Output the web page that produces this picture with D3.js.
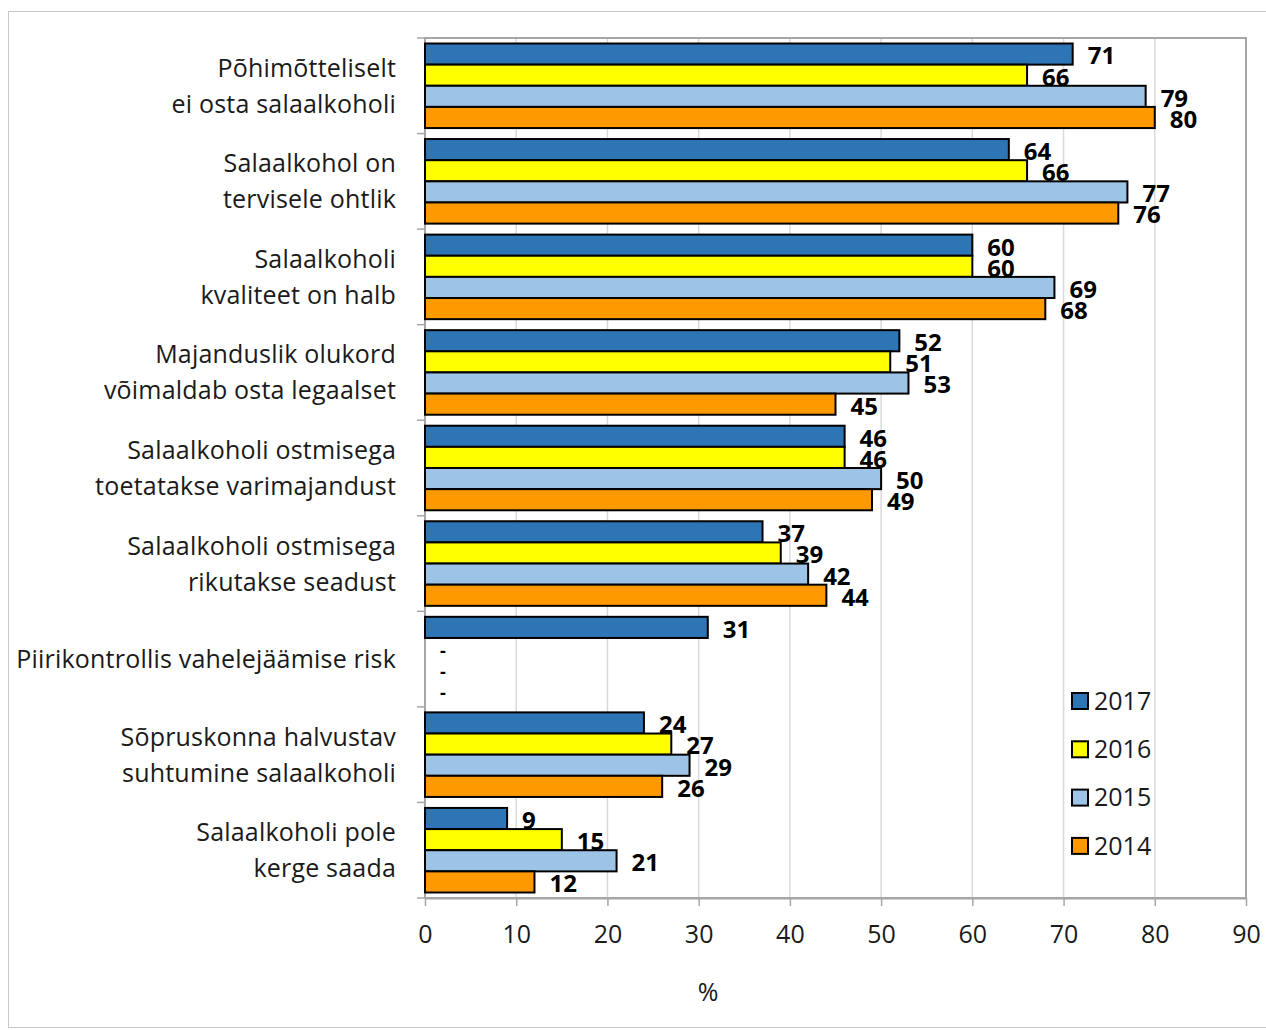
<!DOCTYPE html>
<html>
<head>
<meta charset="utf-8">
<script src="https://cdn.jsdelivr.net/npm/d3@7"></script>
<style>
  body { margin: 0; background: #fff; }
  svg { display: block; font-family: "Open Sans", "Noto Sans", sans-serif; }
</style>
</head>
<body>
<div id="chart"></div>
<script>
// categories (two-line labels), top to bottom
const categories = [
    ['Põhimõtteliselt', 'ei osta salaalkoholi'],
    ['Salaalkohol on', 'tervisele ohtlik'],
    ['Salaalkoholi', 'kvaliteet on halb'],
    ['Majanduslik olukord', 'võimaldab osta legaalset'],
    ['Salaalkoholi ostmisega', 'toetatakse varimajandust'],
    ['Salaalkoholi ostmisega', 'rikutakse seadust'],
    ['Piirikontrollis vahelejäämise risk'],
    ['Sõpruskonna halvustav', 'suhtumine salaalkoholi'],
    ['Salaalkoholi pole', 'kerge saada']
];

const years = ['2017', '2016', '2015', '2014'];
const colors = ['#2e75b6', '#ffff00', '#9dc3e6', '#ff9900'];

// values per year, same order as categories (null = no data)
const v2017 = [71, 64, 60, 52, 46, 37, 31, 24, 9];
const v2016 = [66, 66, 60, 51, 46, 39, null, 27, 15];
const v2015 = [79, 77, 69, 53, 50, 42, null, 29, 21];
const v2014 = [80, 76, 68, 45, 49, 44, null, 26, 12];
const series = [v2017, v2016, v2015, v2014];

const xTicks = [0, 10, 20, 30, 40, 50, 60, 70, 80, 90];

const width = 1266, height = 1030;
const plot = { left: 425, right: 1246, top: 38, bottom: 898 };

const svg = d3.select('#chart').append('svg')
    .attr('width', width)
    .attr('height', height);

// chart frame
svg.append('rect')
    .attr('x', 8.5).attr('y', 11.5)
    .attr('width', 1280).attr('height', 1016)
    .attr('fill', 'none')
    .attr('stroke', '#c8c8c8')
    .attr('stroke-width', 1);

const x = d3.scaleLinear().domain([0, 90]).range([plot.left, plot.right]);
const y = d3.scaleBand().domain(d3.range(categories.length))
    .range([plot.top, plot.bottom])
    .paddingInner(0.115).paddingOuter(0.0575);
const yInner = d3.scaleBand().domain(d3.range(years.length))
    .range([0, y.bandwidth()]);
const yCat = d3.scaleBand().domain(d3.range(categories.length))
    .range([plot.top, plot.bottom]);

// gridlines
svg.append('g')
    .selectAll('line')
    .data(xTicks.slice(1))
    .join('line')
    .attr('x1', d => x(d)).attr('x2', d => x(d))
    .attr('y1', plot.top).attr('y2', plot.bottom)
    .attr('stroke', '#d9d9d9')
    .attr('stroke-width', 1.5);

// plot area border
svg.append('rect')
    .attr('x', plot.left).attr('y', plot.top)
    .attr('width', plot.right - plot.left)
    .attr('height', plot.bottom - plot.top)
    .attr('fill', 'none')
    .attr('stroke', '#a6a6a6')
    .attr('stroke-width', 2);

// x axis
const xAxis = svg.append('g')
    .attr('transform', `translate(0,${plot.bottom})`)
    .call(d3.axisBottom(x).tickValues(xTicks).tickSize(8).tickPadding(19).tickSizeOuter(0));
xAxis.select('.domain').attr('stroke', '#a6a6a6').attr('stroke-width', 2);
xAxis.selectAll('.tick line').attr('stroke', '#a6a6a6').attr('stroke-width', 1.5);
xAxis.selectAll('.tick text')
    .attr('fill', '#1a1a1a')
    .style('font-size', '25px')
    .style('font-family', '"Open Sans", "Noto Sans", sans-serif');

// y axis ticks (category separators)
svg.append('g')
    .selectAll('line')
    .data(d3.range(categories.length + 1))
    .join('line')
    .attr('x1', plot.left - 8).attr('x2', plot.left)
    .attr('y1', d => d < categories.length ? yCat(d) : plot.bottom)
    .attr('y2', d => d < categories.length ? yCat(d) : plot.bottom)
    .attr('stroke', '#a6a6a6')
    .attr('stroke-width', 1.5);
svg.append('line')
    .attr('x1', plot.left).attr('x2', plot.left)
    .attr('y1', plot.top).attr('y2', plot.bottom)
    .attr('stroke', '#a6a6a6').attr('stroke-width', 2);

// category labels
const catLabels = svg.append('g')
    .selectAll('text')
    .data(categories)
    .join('text')
    .attr('text-anchor', 'end')
    .attr('fill', '#1a1a1a')
    .style('font-size', '25px')
    .style('letter-spacing', '0.2px')
    .attr('x', 396)
    .attr('y', (d, i) => yCat(i) + yCat.bandwidth() / 2);
catLabels.selectAll('tspan')
    .data(d => d.map((line, j) => ({ line, j, n: d.length })))
    .join('tspan')
    .attr('x', 396)
    .attr('dy', d => d.j === 0 ? (d.n === 1 ? '0.35em' : `${-18 + 9}px`) : '36px')
    .text(d => d.line);

// bars
const groups = svg.append('g')
    .selectAll('g')
    .data(categories)
    .join('g')
    .attr('transform', (d, i) => `translate(0,${y(i)})`);

groups.each(function (cat, ci) {
    const g = d3.select(this);
    const rows = series.map((s, si) => ({ si, v: s[ci] }));

    g.selectAll('rect')
        .data(rows.filter(r => r.v !== null))
        .join('rect')
        .attr('x', x(0))
        .attr('y', r => yInner(r.si))
        .attr('width', r => x(r.v) - x(0))
        .attr('height', yInner.bandwidth())
        .attr('fill', r => colors[r.si])
        .attr('stroke', '#000')
        .attr('stroke-width', 2);

    g.selectAll('text')
        .data(rows)
        .join('text')
        .attr('x', r => r.v === null ? x(0) + 15 : x(r.v) + 15)
        .attr('y', r => yInner(r.si) + yInner.bandwidth() / 2 + 2)
        .attr('dy', '0.35em')
        .attr('fill', '#000')
        .style('font-size', r => r.v === null ? '18px' : '24px')
        .style('font-weight', 'bold')
        .text(r => r.v === null ? '-' : r.v);
});

// legend
const legend = svg.append('g')
    .selectAll('g')
    .data(years)
    .join('g')
    .attr('transform', (d, i) => `translate(1072,${701 + i * 48.3})`);
legend.append('rect')
    .attr('x', 0).attr('y', -8)
    .attr('width', 16).attr('height', 16)
    .attr('fill', (d, i) => colors[i])
    .attr('stroke', '#000')
    .attr('stroke-width', 2);
legend.append('text')
    .attr('x', 22).attr('dy', '0.35em')
    .attr('fill', '#1a1a1a')
    .style('font-size', '25px')
    .text(d => d);

// x axis title
svg.append('text')
    .attr('x', 708).attr('y', 992)
    .attr('dy', '0.35em')
    .attr('text-anchor', 'middle')
    .attr('fill', '#1a1a1a')
    .style('font-size', '25px')
    .text('%');
</script>
</body>
</html>
